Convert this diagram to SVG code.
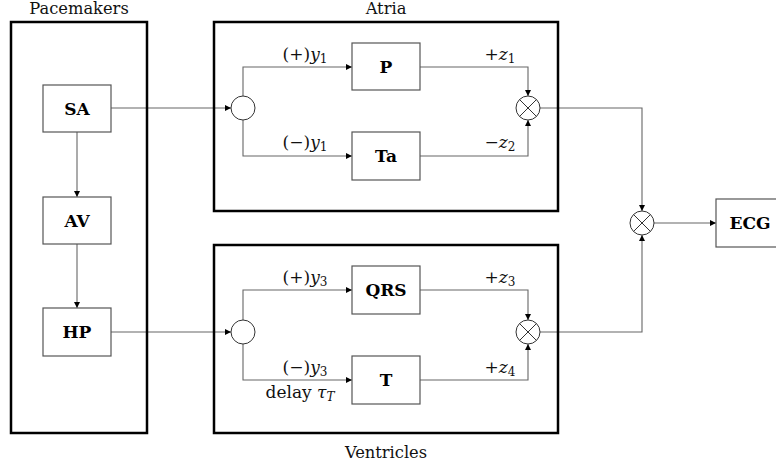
<svg xmlns="http://www.w3.org/2000/svg" width="776" height="468" viewBox="0 0 776 468">
<defs>
<marker id="ah" viewBox="0 0 10 10" refX="10" refY="5" markerWidth="6" markerHeight="6" markerUnits="userSpaceOnUse" orient="auto">
<path d="M0,0 L10,5 L0,10 z" fill="#000"/>
</marker>
<style>
.outer{fill:none;stroke:#000;stroke-width:2.5}
.blk{fill:#fff;stroke:#555;stroke-width:1.2}
.con{fill:none;stroke:#666;stroke-width:1.1}
.arr{marker-end:url(#ah)}
.circ{fill:#fff;stroke:#333;stroke-width:1}
.x{stroke:#333;stroke-width:1}
.title{font-family:"DejaVu Serif","Liberation Serif",serif;font-size:16.3px;fill:#111;text-anchor:middle}
.node{font-family:"DejaVu Serif","Liberation Serif",serif;font-size:17px;font-weight:bold;fill:#000;text-anchor:middle}
.lab{font-family:"DejaVu Serif","Liberation Serif",serif;font-size:17px;fill:#111;text-anchor:middle}
.it{font-style:italic}
.sub{font-size:12px}
</style>
</defs>
<rect width="776" height="468" fill="#fff"/>

<g id="connectors">
<line class="con arr" x1="77" y1="132" x2="77" y2="197"/>
<line class="con arr" x1="77" y1="244" x2="77" y2="308"/>
<line class="con arr" x1="111" y1="108" x2="231" y2="108"/>
<line class="con arr" x1="111" y1="332" x2="231" y2="332"/>
<polyline class="con arr" points="243,96 243,67 352,67"/>
<polyline class="con arr" points="243,120 243,156 352,156"/>
<polyline class="con arr" points="420,67 528,67 528,96"/>
<polyline class="con arr" points="420,156 528,156 528,120"/>
<polyline class="con arr" points="243,320 243,290 352,290"/>
<polyline class="con arr" points="243,344 243,380 352,380"/>
<polyline class="con arr" points="420,290 528,290 528,320"/>
<polyline class="con arr" points="420,380 528,380 528,344"/>
<polyline class="con arr" points="540,108 642,108 642,211"/>
<polyline class="con arr" points="540,332 642,332 642,235"/>
<line class="con arr" x1="654" y1="223" x2="716" y2="223"/>
</g>

<g id="pacemakers">
<rect class="outer" x="11" y="22" width="136" height="411"/>
<text class="title" x="79" y="14">Pacemakers</text>
</g>
<g id="atria">
<rect class="outer" x="214" y="22" width="344" height="189"/>
<text class="title" x="386" y="14">Atria</text>
</g>
<g id="ventricles">
<rect class="outer" x="214" y="245" width="344" height="188"/>
<text class="title" x="386" y="458">Ventricles</text>
</g>

<g id="SA"><rect class="blk" x="43" y="85" width="68" height="47"/><text class="node" x="77" y="114.5">SA</text></g>
<g id="AV"><rect class="blk" x="43" y="197" width="68" height="47"/><text class="node" x="77" y="226.5">AV</text></g>
<g id="HP"><rect class="blk" x="43" y="308" width="68" height="48"/><text class="node" x="77" y="338">HP</text></g>

<g id="split1"><circle class="circ" cx="243" cy="108" r="12"/></g>
<g id="P"><rect class="blk" x="352" y="43" width="68" height="47"/><text class="node" x="386" y="72.5">P</text></g>
<g id="Ta"><rect class="blk" x="352" y="132" width="68" height="48"/><text class="node" x="386" y="162">Ta</text></g>
<g id="mult1"><circle class="circ" cx="528" cy="108" r="12"/><path class="x" d="M519.5,99.5 L536.5,116.5 M536.5,99.5 L519.5,116.5"/></g>

<g id="split2"><circle class="circ" cx="243" cy="332" r="12"/></g>
<g id="QRS"><rect class="blk" x="352" y="266" width="68" height="48"/><text class="node" x="386" y="296">QRS</text></g>
<g id="T"><rect class="blk" x="352" y="356" width="68" height="48"/><text class="node" x="386" y="386">T</text></g>
<g id="mult2"><circle class="circ" cx="528" cy="332" r="12"/><path class="x" d="M519.5,323.5 L536.5,340.5 M536.5,323.5 L519.5,340.5"/></g>

<g id="mult3"><circle class="circ" cx="642" cy="223" r="12"/><path class="x" d="M633.5,214.5 L650.5,231.5 M650.5,214.5 L633.5,231.5"/></g>
<g id="ECG"><rect class="blk" x="716" y="199" width="68" height="48"/><text class="node" x="750" y="229">ECG</text></g>

<g id="labels">
<text class="lab" x="305" y="60">(+)<tspan class="it">y</tspan><tspan class="sub" dy="3">1</tspan></text>
<text class="lab" x="305" y="148">(−)<tspan class="it">y</tspan><tspan class="sub" dy="3">1</tspan></text>
<text class="lab" x="500" y="60">+<tspan class="it">z</tspan><tspan class="sub" dy="3">1</tspan></text>
<text class="lab" x="500" y="148">−<tspan class="it">z</tspan><tspan class="sub" dy="3">2</tspan></text>
<text class="lab" x="305" y="283">(+)<tspan class="it">y</tspan><tspan class="sub" dy="3">3</tspan></text>
<text class="lab" x="305" y="373">(−)<tspan class="it">y</tspan><tspan class="sub" dy="3">3</tspan></text>
<text class="lab" x="500" y="283">+<tspan class="it">z</tspan><tspan class="sub" dy="3">3</tspan></text>
<text class="lab" x="500" y="373">+<tspan class="it">z</tspan><tspan class="sub" dy="3">4</tspan></text>
<text class="lab" x="300" y="398">delay <tspan class="it">τ</tspan><tspan class="sub it" dy="3">T</tspan></text>
</g>
</svg>
